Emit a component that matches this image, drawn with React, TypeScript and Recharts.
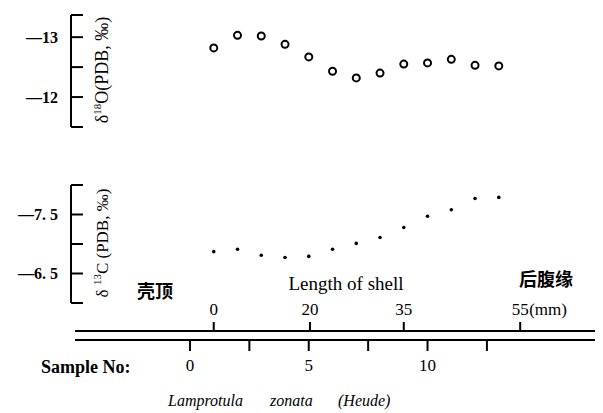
import React from 'react';
import { ScatterChart, Scatter, XAxis, YAxis, ComposedChart } from 'recharts';

// sample numbers along the shell (apex -> posterior-ventral margin)
const SAMPLES = [1, 2, 3, 4, 5, 6, 7, 8, 9, 10, 11, 12, 13];
const D18O = [-12.82, -13.03, -13.02, -12.88, -12.67, -12.43, -12.32, -12.4, -12.55, -12.57, -12.63, -12.53, -12.52];
const D13C = [-6.87, -6.91, -6.81, -6.77, -6.79, -6.91, -7.01, -7.11, -7.28, -7.47, -7.58, -7.77, -7.79];

const O_TICKS = [-13.37, -13, -12.5, -12, -11.5];
const O_LABELS = ['', '—13', '', '—12', ''];
const C_TICKS = [-8, -7.5, -7, -6.5, -6];
const C_LABELS = ['', '—7. 5', '', '—6. 5', ''];

const SAMPLE_TICKS = [0, 2.5, 5, 7.5, 10, 12.5];
const SAMPLE_LABELS = ['0', '', '5', '', '10', ''];
// shell length marks, placed at the sample position they fall on
const LENGTH_AT_SAMPLE = [1, 5.05, 9, 13.9];
const LENGTH_LABELS = ['0', '20', '35', '55'];

const oData = SAMPLES.map((s, i) => ({ s, v: D18O[i] }));
const cData = SAMPLES.map((s, i) => ({ s, v: D13C[i] }));

const SERIF = '"Liberation Serif", "DejaVu Serif", serif';
const CJK = '"Noto Sans CJK SC", sans-serif';

const yTick = (ticks: number[], labels: string[]) => (props: any) => {
  const { x, y, payload } = props;
  const label = labels[ticks.indexOf(payload.value)];
  return (
    <g>
      <line x1={x} x2={x + 12} y1={y} y2={y} stroke="#000" strokeWidth={2} />
      {label ? (
        <text x={x - 13} y={y} dy="0.35em" textAnchor="end" fontFamily={SERIF} fontSize={16} fontWeight={700} fill="#000">
          {label}
        </text>
      ) : null}
    </g>
  );
};

const lengthTick = (props: any) => {
  const { x, y, payload } = props;
  const label = LENGTH_LABELS[LENGTH_AT_SAMPLE.indexOf(payload.value)];
  const last = payload.value === LENGTH_AT_SAMPLE[LENGTH_AT_SAMPLE.length - 1];
  return (
    <g>
      <line x1={x} x2={x} y1={y} y2={y - 9} stroke="#000" strokeWidth={2} />
      <text x={x} y={y - 22} dy="0.35em" textAnchor="middle" fontFamily={SERIF} fontSize={17} fill="#000">
        {label}
      </text>
      {last ? (
        <text x={x + 9} y={y - 22} dy="0.35em" textAnchor="start" fontFamily={SERIF} fontSize={17} fill="#000">
          (mm)
        </text>
      ) : null}
    </g>
  );
};

const sampleTick = (props: any) => {
  const { x, y, payload } = props;
  const label = SAMPLE_LABELS[SAMPLE_TICKS.indexOf(payload.value)];
  return (
    <g>
      <line x1={x} x2={x} y1={y} y2={y + 11} stroke="#000" strokeWidth={2} />
      {label ? (
        <text x={x} y={y + 25} dy="0.35em" textAnchor="middle" fontFamily={SERIF} fontSize={17} fill="#000">
          {label}
        </text>
      ) : null}
    </g>
  );
};

const openCircle = (props: any) => (
  <circle cx={props.cx} cy={props.cy} r={3.5} fill="#fff" stroke="#000" strokeWidth={2} />
);
const smallDot = (props: any) => <circle cx={props.cx} cy={props.cy} r={1.8} fill="#000" />;

const PLOT_DOMAIN: [number, number] = [-5.01, 17.05];
const AXIS_DOMAIN: [number, number] = [-4.84, 17.05];

export default function App() {
  return (
    <div style={{ position: 'absolute', left: 0, top: 0, width: 603, height: 413, background: '#fff' }}>
      {/* δ18O panel */}
      <div style={{ position: 'absolute', left: 0, top: 0 }}>
        <ScatterChart width={603} height={140} margin={{ top: 15, right: 8, bottom: 13, left: 0 }}>
          <XAxis type="number" dataKey="s" domain={PLOT_DOMAIN} hide allowDataOverflow />
          <YAxis
            type="number"
            dataKey="v"
            width={71}
            domain={[O_TICKS[0], O_TICKS[O_TICKS.length - 1]]}
            ticks={O_TICKS}
            reversed
            allowDataOverflow
            interval={0}
            tickSize={0}
            tickMargin={0}
            tickLine={false}
            axisLine={{ stroke: '#000', strokeWidth: 2 }}
            tick={yTick(O_TICKS, O_LABELS)}
          />
          <Scatter data={oData} shape={openCircle} isAnimationActive={false} />
        </ScatterChart>
      </div>

      {/* δ13C panel */}
      <div style={{ position: 'absolute', left: 0, top: 170 }}>
        <ScatterChart width={603} height={150} margin={{ top: 15, right: 8, bottom: 17, left: 0 }}>
          <XAxis type="number" dataKey="s" domain={PLOT_DOMAIN} hide allowDataOverflow />
          <YAxis
            type="number"
            dataKey="v"
            width={71}
            domain={[C_TICKS[0], C_TICKS[C_TICKS.length - 1]]}
            ticks={C_TICKS}
            reversed
            allowDataOverflow
            interval={0}
            tickSize={0}
            tickMargin={0}
            tickLine={false}
            axisLine={{ stroke: '#000', strokeWidth: 2 }}
            tick={yTick(C_TICKS, C_LABELS)}
          />
          <Scatter data={cData} shape={smallDot} isAnimationActive={false} />
        </ScatterChart>
      </div>

      {/* length / sample axes */}
      <div style={{ position: 'absolute', left: 0, top: 0 }}>
        <ComposedChart width={603} height={413} margin={{ top: 300, right: 8, bottom: 13, left: 75 }} data={oData}>
          <XAxis
            xAxisId="len"
            type="number"
            dataKey="s"
            domain={AXIS_DOMAIN}
            ticks={LENGTH_AT_SAMPLE}
            interval={0}
            allowDataOverflow
            height={9}
            tickSize={0}
            tickMargin={0}
            tickLine={false}
            axisLine={{ stroke: '#000', strokeWidth: 2 }}
            tick={lengthTick}
          />
          <XAxis
            xAxisId="smp"
            type="number"
            dataKey="s"
            domain={AXIS_DOMAIN}
            ticks={SAMPLE_TICKS}
            interval={0}
            allowDataOverflow
            height={60}
            tickSize={0}
            tickMargin={0}
            tickLine={false}
            axisLine={{ stroke: '#000', strokeWidth: 2 }}
            tick={sampleTick}
          />
          <YAxis hide />
        </ComposedChart>
      </div>

      {/* titles and captions */}
      <svg width={603} height={413} style={{ position: 'absolute', left: 0, top: 0, pointerEvents: 'none' }}>
        <text transform="translate(108,70) rotate(-90)" textAnchor="middle" fontFamily={SERIF} fontSize={18} fill="#000">
          δ<tspan fontSize={11} dy={-7}>18</tspan><tspan dy={7}>O(PDB, ‰)</tspan>
        </text>
        <text transform="translate(108,243) rotate(-90)" textAnchor="middle" fontFamily={SERIF} fontSize={17} fill="#000">
          δ <tspan fontSize={11} dy={-7}>13</tspan><tspan dy={7}>C (PDB,  ‰)</tspan>
        </text>
        <text x={155} y={292} dy="0.35em" textAnchor="middle" fontFamily={CJK} fontSize={18} fontWeight={700} fill="#000">壳顶</text>
        <text x={346} y={283} dy="0.35em" textAnchor="middle" fontFamily={SERIF} fontSize={19} fill="#000">Length of shell</text>
        <text x={546} y={280} dy="0.35em" textAnchor="middle" fontFamily={CJK} fontSize={18} fontWeight={700} fill="#000">后腹缘</text>
        <text x={41} y={367} dy="0.35em" textAnchor="start" fontFamily={SERIF} fontSize={18} fontWeight={700} fill="#000">Sample No:</text>
        <g fontFamily={SERIF} fontSize={16} fontStyle="italic" fill="#000">
          <text x={168} y={406}>Lamprotula</text>
          <text x={270} y={406}>zonata</text>
          <text x={338} y={406}>(Heude)</text>
        </g>
      </svg>
    </div>
  );
}
